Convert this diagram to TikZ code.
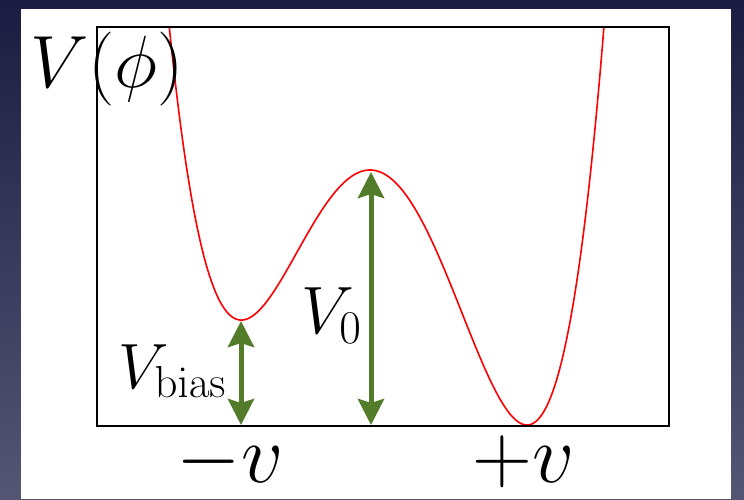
\documentclass[tikz,border=0pt]{standalone}
\usepackage{fix-cm}
\usetikzlibrary{arrows.meta}
\definecolor{arrowgreen}{RGB}{82,124,42}
\definecolor{bgtop}{RGB}{28,28,66}
\definecolor{bgbot}{RGB}{84,86,116}
\newcommand{\bigtext}[1]{\fontsize{#1}{#1}\selectfont}
\begin{document}
\begin{tikzpicture}[x=1pt,y=-1pt,
  curve/.style={red, line width=1.6pt},
  plotframe/.style={black, line width=1.1pt},
  gaparrow/.style={arrowgreen, line width=5pt,
    {Stealth[length=26pt,width=26pt,inset=4pt]}-{Stealth[length=26pt,width=26pt,inset=4pt]}},
  lbl/.style={inner sep=0pt, text=black}]
\useasboundingbox (0,0) rectangle (744,499);
\shade[top color=bgtop, bottom color=bgbot] (0,0) rectangle (744,499);
\fill[white] (21,9) rectangle (731,499);
\begin{scope}
  \clip (97,27) rectangle (669,426);
  \draw[curve] plot[domain=-2.03:2.36, samples=300]
    ({370+100*\x},{170-190.81*(0.25*(\x)*(\x)*(\x)*(\x)-0.094333*(\x)*(\x)*(\x)-1.0103*(\x)*(\x))});
\end{scope}
\draw[plotframe] (97,27) rectangle (669,426);
\coordinate (lmin) at (241,321);
\coordinate (lbase) at (241,425);
\coordinate (peak) at (371,172);
\coordinate (mbase) at (371,425);
\draw[gaparrow] (lmin) -- (lbase);
\draw[gaparrow] (peak) -- (mbase);
\node[lbl, anchor=base west] (vphi) at (30,87) {\bigtext{74}$V\bigl(\phi\bigr)$};
\node[lbl, anchor=base] (mv) at (230,482) {\bigtext{83}$-v$};
\node[lbl, anchor=base] (pv) at (524,482) {\bigtext{83}$+v$};
\node[lbl, anchor=base west] (vzero) at (301,333) {\bigtext{67}$V_0$};
\node[lbl, anchor=base west] (vbias) at (118,388) {\bigtext{64}$V_{\mathrm{bias}}$};
\end{tikzpicture}
\end{document}
